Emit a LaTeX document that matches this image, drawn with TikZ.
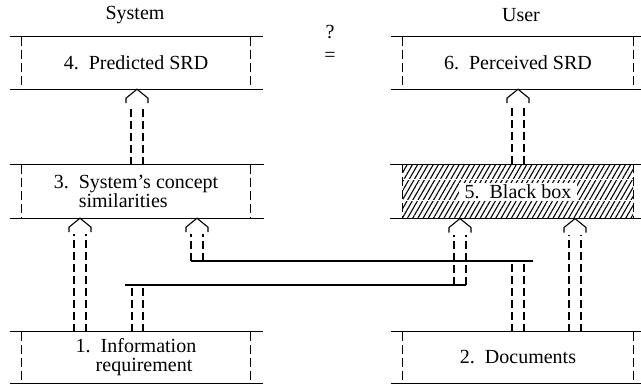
\documentclass[tikz,border=0pt]{standalone}
\usepackage{fontspec}
\setmainfont{Liberation Serif}
\usetikzlibrary{calc,patterns.meta}
\tikzset{
  hline/.style={line width=1.2pt},
  vside/.style={line width=1.1pt, dash pattern=on 9pt off 4pt},
  shaft/.style={line width=1.1pt, dash pattern=on 8pt off 4pt},
  head/.style={line width=1.1pt},
  pipe/.style={line width=1.2pt},
  boxnode/.style={rectangle, inner sep=0pt, align=left, font=\fontsize{20}{19}\selectfont},
  lbox/.style={boxnode, minimum width=228pt},
  rbox/.style={boxnode, minimum width=230pt},
  lbl/.style={font=\fontsize{20}{24}\selectfont, inner sep=0pt},
}
\newcommand{\boxlines}[3]{%
  \draw[hline] ([xshift=-#2]#1.north west) -- ([xshift=#3]#1.north east);
  \draw[hline] ([xshift=-#2]#1.south west) -- ([xshift=#3]#1.south east);
  \draw[vside] (#1.north west) -- (#1.south west);
  \draw[vside] (#1.north east) -- (#1.south east);
}
\newcommand{\uparr}[3]{%
  \coordinate (t) at (#1,0 |- #3);
  \coordinate (s) at (#1,0 |- #2);
  \draw[shaft] ($(s)+(-6,0)$) -- ($(t)+(-6,16)$);
  \draw[shaft] ($(s)+(6,0)$) -- ($(t)+(6,16)$);
  \draw[head] ($(t)+(-11,14)$) -- ($(t)+(-11,9)$) -- (t) -- ($(t)+(11,9)$) -- ($(t)+(11,14)$);
}
\begin{document}
\begin{tikzpicture}[x=1pt,y=-1pt]
\useasboundingbox (0,0) rectangle (641,384);
\fill[white] (0,0) rectangle (641,384);

% headers
\node[lbl] (sys) at (135,15) {System};
\node[lbl] (usr) at (521,15) {User};
\node[lbl] (q) at (330,32) {?};
\node[lbl] (eq) at (330,57) {=};

% boxes
\node[lbox, minimum height=52pt] (b4) at (136,63) {4.\ \ Predicted SRD};
\node[rbox, minimum height=52pt] (b6) at (518,63) {6.\ \ Perceived SRD};
\node[lbox, minimum height=53pt] (b3) at (136,191.5) {3.\ \ System's concept\\\hphantom{3.\ \ }similarities};
\node[rbox, minimum height=53pt, pattern={Lines[angle=60,distance=4.5pt,line width=1.1pt]}] (b5) at (518,191.5)
  {{\fboxsep=1pt\colorbox{white}{\hspace{5pt}5.\ \ Black box\hspace{5pt}}}};
\node[lbox, minimum height=51pt] (b1) at (136,357.5) {1.\ \ Information\\\hphantom{1.\ }requirement};
\node[rbox, minimum height=51pt] (b2) at (518,357.5) {2.\ \ Documents};

% white gaps in hatching
\draw[white, line width=1pt] (b5.west |- 0,179) -- (b5.east |- 0,179);
\draw[white, line width=1pt] (b5.west |- 0,200) -- (b5.east |- 0,200);

\boxlines{b4}{12pt}{13pt}
\boxlines{b3}{12pt}{14pt}
\boxlines{b1}{12pt}{13pt}
\boxlines{b6}{12pt}{8pt}
\boxlines{b5}{12pt}{8pt}
\boxlines{b2}{12pt}{8pt}

% direct connectors
\uparr{137}{b3.north}{b4.south}
\uparr{518}{b5.north}{b6.south}
\uparr{80}{b1.north}{b3.south}
\uparr{575}{b2.north}{b5.south}

% pipe A: documents -> system's concept similarities
\coordinate (yA) at (0,261);
\draw[shaft] (512,0 |- b2.north) -- (512,0 |- yA);
\draw[shaft] (524,0 |- b2.north) -- (524,0 |- yA);
\draw[pipe] (191,0 |- yA) -- (533,0 |- yA);
\uparr{197}{yA}{b3.south}

% pipe B: information requirement -> black box
\coordinate (yB) at (0,285);
\draw[shaft] (132,0 |- b1.north) -- (132,0 |- yB);
\draw[shaft] (143,0 |- b1.north) -- (143,0 |- yB);
\draw[pipe] (125,0 |- yB) -- (466,0 |- yB);
\uparr{460}{yB}{b5.south}
\end{tikzpicture}
\end{document}
